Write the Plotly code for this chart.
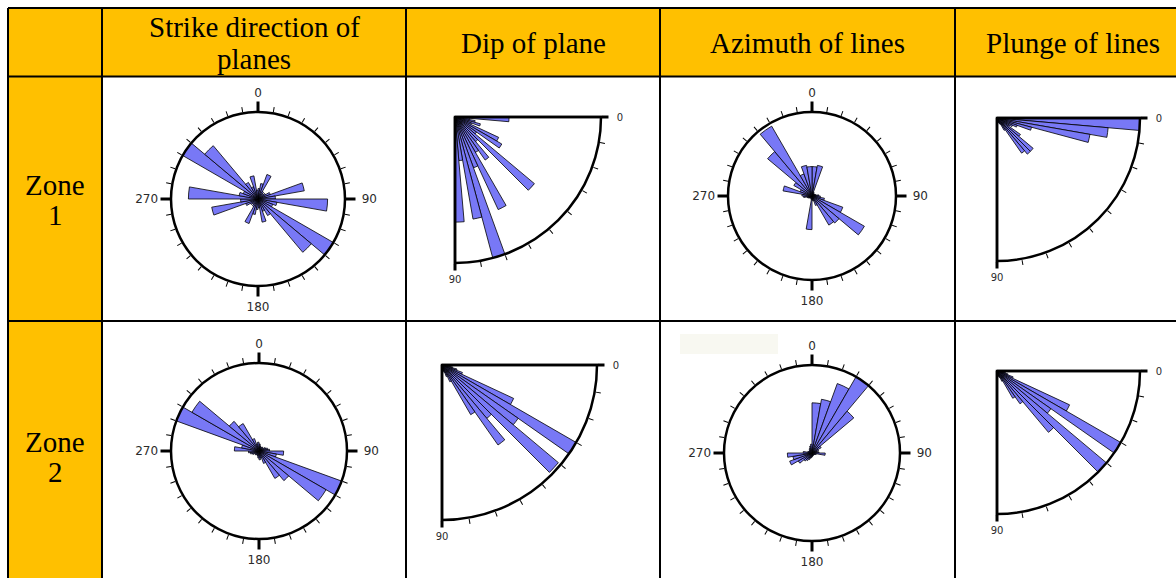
import plotly.graph_objects as go

W, H = 1176, 578

# ---------------- data ----------------
header_labels = [["Strike direction of", "planes"], ["Dip of plane"], ["Azimuth of lines"], ["Plunge of lines"]]
zone_labels = [["Zone", "1"], ["Zone", "2"]]

# 10-degree direction bins (bin centres, degrees clockwise from north)
direction_bins = [5, 15, 25, 35, 45, 55, 65, 75, 85, 95, 105, 115,
                  125, 135, 145, 155, 165, 175, 185, 195, 205, 215, 225, 235,
                  245, 255, 265, 275, 285, 295, 305, 315, 325, 335, 345, 355]

# 5-degree inclination bins (bin centres, degrees below horizontal)
inclination_bins = [2.5, 7.5, 12.5, 17.5, 22.5, 27.5, 32.5, 37.5, 42.5,
                    47.5, 52.5, 57.5, 62.5, 67.5, 72.5, 77.5, 82.5, 87.5]

# relative frequency of each bin (1.0 = outer circle)
strike_zone1 = [0.12, 0.18, 0.30, 0.10, 0.08, 0.10, 0.15, 0.54, 0.20, 0.80, 0.22, 0.18,
                1.00, 0.80, 0.22, 0.15, 0.27, 0.10, 0.12, 0.18, 0.30, 0.10, 0.08, 0.10,
                0.15, 0.54, 0.20, 0.80, 0.22, 0.18, 1.00, 0.80, 0.22, 0.15, 0.27, 0.10]
strike_zone2 = [0.08, 0.06, 0.05, 0.05, 0.06, 0.05, 0.08, 0.10, 0.12, 0.28, 0.20, 1.00,
                0.88, 0.44, 0.36, 0.15, 0.08, 0.10, 0.08, 0.06, 0.05, 0.05, 0.06, 0.05,
                0.08, 0.10, 0.12, 0.28, 0.20, 1.00, 0.88, 0.44, 0.36, 0.15, 0.08, 0.10]
azimuth_zone1 = [0.35, 0.37, 0.05, 0.04, 0.03, 0.03, 0.04, 0.05, 0.08, 0.10, 0.15, 0.39,
                 0.72, 0.42, 0.40, 0.12, 0.06, 0.05, 0.40, 0.04, 0.03, 0.03, 0.03, 0.04,
                 0.05, 0.06, 0.10, 0.12, 0.35, 0.15, 0.25, 0.69, 0.96, 0.28, 0.37, 0.35]
azimuth_zone2 = [0.57, 0.62, 0.84, 1.00, 0.62, 0.12, 0.08, 0.06, 0.08, 0.15, 0.05, 0.04,
                 0.03, 0.03, 0.03, 0.03, 0.03, 0.04, 0.05, 0.06, 0.08, 0.10, 0.12, 0.18,
                 0.27, 0.22, 0.28, 0.10, 0.05, 0.04, 0.04, 0.04, 0.05, 0.06, 0.08, 0.10]
dip_zone1 = [0.37, 0.10, 0.14, 0.18, 0.12, 0.33, 0.37, 0.18, 0.71,
             0.22, 0.36, 0.28, 0.70, 0.37, 1.00, 0.71, 0.30, 0.72]
dip_zone2 = [0.03, 0.05, 0.07, 0.10, 0.14, 0.51, 1.00, 0.60, 0.98,
             0.45, 0.63, 0.37, 0.12, 0.08, 0.05, 0.04, 0.03, 0.02]
plunge_zone1 = [1.00, 0.78, 0.66, 0.25, 0.15, 0.12, 0.10, 0.20, 0.33,
                0.33, 0.30, 0.10, 0.05, 0.04, 0.03, 0.03, 0.02, 0.02]
plunge_zone2 = [0.03, 0.05, 0.06, 0.08, 0.12, 0.56, 1.00, 0.46, 1.00,
                0.56, 0.28, 0.22, 0.08, 0.05, 0.04, 0.03, 0.02, 0.02]

# ---------------- styling / geometry ----------------
HEADER_FILL = "#FFC000"
BAR_FILL = "#7878F6"
CIRCLE_LABEL_FONT = dict(family="DejaVu Sans", size=12, color="#2b2b2b")
QUARTER_LABEL_FONT = dict(family="DejaVu Sans", size=10, color="#2b2b2b")
SERIF = "Liberation Serif, Times New Roman, serif"
NBSP = "\u00a0"

col_edges = [8, 102, 406, 660, 955, 1190]
row_edges = [8, 76.5, 321, 590]

def fx(x):
    return x / W

def fy(y):
    return 1 - y / H

fig = go.Figure()
layout = dict(width=W, height=H, margin=dict(l=0, r=0, t=0, b=0),
              paper_bgcolor="white", plot_bgcolor="white",
              showlegend=False, template="none")

# ---------- table cells and borders ----------
shapes = []
shapes.append(dict(type="rect", xref="paper", yref="paper", layer="below",
                   x0=fx(col_edges[0]), x1=fx(col_edges[-1]),
                   y0=fy(row_edges[1]), y1=fy(row_edges[0]),
                   fillcolor=HEADER_FILL, line=dict(width=0)))
shapes.append(dict(type="rect", xref="paper", yref="paper", layer="below",
                   x0=fx(col_edges[0]), x1=fx(col_edges[1]),
                   y0=fy(row_edges[-1]), y1=fy(row_edges[0]),
                   fillcolor=HEADER_FILL, line=dict(width=0)))
shapes.append(dict(type="rect", xref="paper", yref="paper", layer="below",
                   x0=fx(680), x1=fx(778), y0=fy(354), y1=fy(334),
                   fillcolor="#F8F8F1", line=dict(width=0)))
for x in col_edges[:-1]:
    shapes.append(dict(type="line", xref="paper", yref="paper", layer="above",
                       x0=fx(x), x1=fx(x), y0=fy(row_edges[-1]), y1=fy(row_edges[0]),
                       line=dict(color="black", width=2)))
for y in row_edges[:-1]:
    shapes.append(dict(type="line", xref="paper", yref="paper", layer="above",
                       x0=fx(col_edges[0]), x1=fx(col_edges[-1]), y0=fy(y), y1=fy(y),
                       line=dict(color="black", width=2)))
layout["shapes"] = shapes

# ---------- header / zone text ----------
annotations = []
header_y = {1: [43], 2: [27, 59]}
for i, lines in enumerate(header_labels):
    cx = (col_edges[i + 1] + col_edges[i + 2]) / 2
    for line, y in zip(lines, header_y[len(lines)]):
        annotations.append(dict(xref="paper", yref="paper", x=fx(cx), y=fy(y),
                                text=line, showarrow=False, xanchor="center", yanchor="middle",
                                font=dict(family=SERIF, size=29, color="black")))
for j, lines in enumerate(zone_labels):
    cy = (row_edges[j + 1] + row_edges[j + 2]) / 2
    cx = (col_edges[0] + col_edges[1]) / 2
    for k, line in enumerate(lines):
        annotations.append(dict(xref="paper", yref="paper", x=fx(cx), y=fy(cy - 14 + 30 * k),
                                text=line, showarrow=False, xanchor="center", yanchor="middle",
                                font=dict(family=SERIF, size=29, color="black")))
layout["annotations"] = annotations

# ---------- rose diagrams ----------
counter = [0]

def next_polar():
    counter[0] += 1
    n = counter[0]
    return ("polar" if n == 1 else f"polar{n}")

def dummy(subplot):
    fig.add_trace(go.Scatterpolar(r=[0], theta=[0], mode="markers", subplot=subplot,
                                  marker=dict(size=1, opacity=0), hoverinfo="skip"))

def circle_rose(values, cx, cy, R):
    """Full-circle compass rose: minor ticks on one polar, cardinal ticks/labels on an overlay."""
    dom = dict(x=[fx(cx - R), fx(cx + R)], y=[fy(cy + R), fy(cy - R)])
    main = next_polar()
    over = next_polar()
    fig.add_trace(go.Barpolar(r=values, theta=direction_bins, width=10, subplot=main,
                              marker=dict(color=BAR_FILL, line=dict(color="black", width=0.8)),
                              hoverinfo="skip"))
    dummy(over)
    layout[main] = dict(
        domain=dom, bgcolor="rgba(0,0,0,0)", bargap=0,
        angularaxis=dict(rotation=90, direction="clockwise", showline=True, linewidth=2.5,
                         linecolor="black", showgrid=False, ticks="outside", ticklen=5,
                         tickwidth=1, tickcolor="black",
                         tickvals=[a for a in range(10, 360, 10) if a % 90],
                         showticklabels=False),
        radialaxis=dict(range=[0, 1], visible=False))
    layout[over] = dict(
        domain=dom, bgcolor="rgba(0,0,0,0)",
        angularaxis=dict(rotation=90, direction="clockwise", showline=False, showgrid=False,
                         ticks="outside", ticklen=10, tickwidth=2.5, tickcolor="black",
                         tickvals=[0, 90, 180, 270],
                         ticktext=["0", NBSP + "90", "180", "270"],
                         tickfont=CIRCLE_LABEL_FONT),
        radialaxis=dict(range=[0, 1], visible=False))

def quarter_rose(values, ox, oy, R):
    """Quarter rose for inclinations: 0 = horizontal (right), 90 = vertical (down)."""
    sector = [-90, 0]
    dom = dict(x=[fx(ox), fx(ox + R)], y=[fy(oy + R), fy(oy)])
    main = next_polar()
    over = next_polar()
    fig.add_trace(go.Barpolar(r=values, theta=inclination_bins, width=5, subplot=main,
                              marker=dict(color=BAR_FILL, line=dict(color="black", width=0.8)),
                              hoverinfo="skip"))
    dummy(over)
    layout[main] = dict(
        domain=dom, sector=sector, bgcolor="rgba(0,0,0,0)", bargap=0,
        angularaxis=dict(rotation=0, direction="clockwise", showline=True, linewidth=2.5,
                         linecolor="black", showgrid=False, ticks="outside", ticklen=5,
                         tickwidth=1, tickcolor="black", showticklabels=False,
                         tickvals=[10, 20, 30, 40, 50, 60, 70, 80]),
        radialaxis=dict(range=[0, 1], angle=sector[0], showline=True, linewidth=2.5,
                        linecolor="black", showgrid=False, ticks="", showticklabels=False))
    layout[over] = dict(
        domain=dom, sector=sector, bgcolor="rgba(0,0,0,0)",
        angularaxis=dict(rotation=0, direction="clockwise", showline=False, showgrid=False,
                         ticks="outside", ticklen=7, tickwidth=2.5, tickcolor="black",
                         tickvals=[0, 90], ticktext=[NBSP * 2 + "0", "90"],
                         tickfont=QUARTER_LABEL_FONT),
        radialaxis=dict(range=[0, 1], angle=sector[1], showline=True, linewidth=2.5,
                        linecolor="black", showgrid=False, ticks="", showticklabels=False))

circle_rose(strike_zone1, 258, 199, 87)
quarter_rose(dip_zone1, 455, 117, 146)
circle_rose(azimuth_zone1, 812, 196, 84)
quarter_rose(plunge_zone1, 997, 118, 143)
circle_rose(strike_zone2, 259, 451, 88)
quarter_rose(dip_zone2, 442, 365, 155)
circle_rose(azimuth_zone2, 812, 453, 88)
quarter_rose(plunge_zone2, 997, 371, 143)

fig.update_layout(**layout)
fig.write_html("out.html")
